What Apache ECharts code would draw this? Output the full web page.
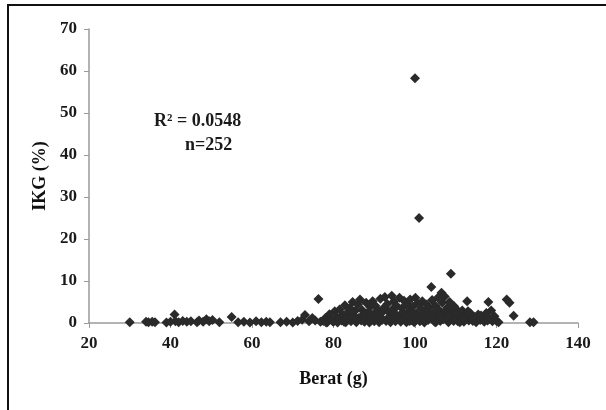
<!DOCTYPE html>
<html>
<head>
<meta charset="utf-8">
<script src="https://cdn.jsdelivr.net/npm/echarts@6/dist/echarts.min.js"></script>
<style>
  html, body { margin: 0; padding: 0; background: #fff; }
  #chart01 { width: 606px; height: 410px; }
</style>
</head>
<body>
<div id="chart01"></div>
<script>
// x axis: Berat (g), y axis: IKG (%)
var xTicks = [20, 40, 60, 80, 100, 120, 140];
var yTicks = [0, 10, 20, 30, 40, 50, 60, 70];

var weight = [
  30, 34, 34.6, 35.5, 36.2, 39, 40, 41, 41.2, 42,
  43, 44, 45, 46.5, 47, 48, 48.8, 49.5, 50.3, 52,
  55, 56.6, 58, 59.5, 61, 62.3, 63.5, 64.4, 67, 68.5,
  70, 71.2, 72.3, 73, 74, 74.8, 75.5, 76.3, 76.8,
  77.5, 78, 78.5, 79, 79.5, 80, 80.3, 80.8, 81, 81.5,
  82, 82.3, 82.8, 83, 83.4, 83.8, 84, 84.3, 84.7, 85,
  85.3, 85.6, 86, 86.2, 86.5, 86.8, 87, 87.3, 87.6, 88,
  88.2, 88.5, 88.8, 89, 89.3, 89.6, 89.9, 90, 90.3, 90.6,
  90.9, 91.2, 91.5, 91.8, 92, 92.3, 92.6, 92.9, 93.2, 93.5,
  93.8, 94, 94.3, 94.5, 94.8, 95, 95.3, 95.6, 95.9, 96.2,
  96.5, 96.8, 97, 97.3, 97.6, 97.9, 98.2, 98.5, 98.8, 99,
  99.2, 99.5, 99.8, 100, 100.1, 100.3, 100.6, 100.9, 101, 101.2,
  101.5, 101.8, 102, 102.3, 102.6, 102.9, 103.2, 103.5, 103.8, 104,
  104.2, 104.5, 104.8, 105, 105.3, 105.6, 105.9, 106.2, 106.5, 106.7,
  107, 107.3, 107.6, 107.9, 108.2, 108.5, 108.8, 109, 109.3, 109.6,
  109.9, 110.2, 110.5, 110.8, 111.2, 111.6, 112, 112.4, 112.8, 113.2,
  113.6, 114, 114.5, 115, 115.5, 116, 116.5, 117, 117.5, 118,
  118.3, 118.7, 119, 119.5, 120, 120.5, 122.5, 123.2, 124.2, 128.2,
  129.1,
  78.2, 79.8, 81.2, 82.6, 84.5, 85.8, 87.8, 89.1, 90.8, 91.9,
  93.3, 94.6, 95.2, 96.4, 97.1, 98.0, 98.6, 99.4, 100.4, 101.6,
  102.5, 103.4, 104.4, 105.1, 105.8, 106.9, 107.5, 108.0, 109.5, 110.0,
  111.0, 111.8, 113.0, 114.2, 116.2, 117.8
];
var ikg = [
  0.2, 0.3, 0.2, 0.3, 0.2, 0.1, 0.3, 2.0, 0.4, 0.2,
  0.5, 0.3, 0.4, 0.2, 0.6, 0.3, 0.9, 0.4, 0.7, 0.2,
  1.4, 0.2, 0.3, 0.1, 0.4, 0.2, 0.3, 0.2, 0.2, 0.3,
  0.1, 0.5, 0.8, 1.9, 0.4, 1.2, 0.6, 5.7, 0.3,
  0.5, 1.2, 0.2, 2.1, 0.8, 0.3, 2.8, 1.5, 0.1, 3.2,
  0.6, 1.9, 4.2, 0.2, 2.5, 1.1, 3.6, 0.4, 5.0, 1.7,
  2.9, 0.2, 4.4, 1.2, 5.6, 0.6, 3.1, 2.0, 0.3, 4.8,
  1.5, 2.6, 0.1, 3.8, 0.9, 5.2, 2.2, 0.4, 4.1, 1.3,
  3.0, 0.2, 5.8, 2.4, 1.0, 3.6, 6.2, 0.5, 4.5, 2.7,
  1.6, 0.2, 6.5, 3.3, 5.1, 0.8, 2.1, 4.0, 1.4, 6.0,
  0.3, 3.5, 2.5, 5.3, 1.1, 0.2, 4.3, 2.8, 5.6, 0.6,
  1.8, 3.9, 0.2, 58.3, 6.0, 2.3, 4.7, 1.2, 25.0, 0.4,
  3.4, 5.2, 1.9, 0.1, 2.9, 4.4, 0.7, 3.7, 1.5, 8.6,
  5.5, 2.4, 0.3, 4.1, 1.0, 6.0, 3.1, 0.5, 7.2, 4.8,
  2.2, 6.3, 1.3, 3.6, 0.2, 5.0, 11.7, 2.7, 0.8, 4.0,
  1.7, 3.2, 0.4, 2.0, 1.1, 3.0, 0.3, 1.6, 5.2, 0.6,
  2.3, 0.9, 1.5, 0.2, 2.0, 0.7, 1.2, 0.3, 2.4, 5.0,
  1.0, 3.0, 0.4, 1.6, 0.5, 0.2, 5.6, 4.8, 1.7, 0.2,
  0.2,
  0.1, 0.4, 0.9, 0.3, 1.4, 0.8, 1.8, 0.5, 2.0, 0.7,
  0.9, 1.2, 0.4, 1.9, 0.9, 1.3, 0.5, 2.5, 0.8, 1.5,
  0.6, 2.0, 1.0, 0.2, 1.8, 0.9, 2.9, 1.6, 0.5, 2.4,
  0.2, 1.3, 2.8, 0.5, 1.8, 0.6
];

var points = weight.map(function (w, i) { return [w, ikg[i]]; });

var serif = '"Liberation Serif", "DejaVu Serif", serif';

var myChart01 = echarts.init(document.getElementById('chart01'));
var option = {
  backgroundColor: '#ffffff',
  animation: false,
  grid: { left: 89, right: 28, top: 29, bottom: 87 },
  xAxis: {
    type: 'value',
    min: xTicks[0],
    max: xTicks[xTicks.length - 1],
    interval: 20,
    name: 'Berat (g)',
    nameLocation: 'middle',
    nameGap: 47,
    nameTextStyle: { fontFamily: serif, fontWeight: 'bold', fontSize: 18, color: '#111' },
    axisLine: { show: true, lineStyle: { color: '#9a9a9a', width: 1.5 } },
    axisTick: { show: true, inside: false, length: 5, lineStyle: { color: '#9a9a9a' } },
    axisLabel: { margin: 12, fontFamily: serif, fontWeight: 'bold', fontSize: 17, color: '#1a1a1a' },
    splitLine: { show: false }
  },
  yAxis: {
    type: 'value',
    min: yTicks[0],
    max: yTicks[yTicks.length - 1],
    interval: 10,
    name: 'IKG (%)',
    nameLocation: 'middle',
    nameGap: 38,
    nameRotate: 90,
    nameTextStyle: { fontFamily: serif, fontWeight: 'bold', fontSize: 18, color: '#111' },
    axisLine: { show: true, lineStyle: { color: '#9a9a9a', width: 1.5 } },
    axisTick: { show: true, inside: false, length: 5, lineStyle: { color: '#9a9a9a' } },
    axisLabel: { margin: 12, fontFamily: serif, fontWeight: 'bold', fontSize: 17, color: '#1a1a1a' },
    splitLine: { show: false }
  },
  graphic: [
    { type: 'line', shape: { x1: 7, y1: 5, x2: 606, y2: 5 }, style: { stroke: '#111', lineWidth: 2 } },
    { type: 'line', shape: { x1: 8, y1: 5, x2: 8, y2: 410 }, style: { stroke: '#111', lineWidth: 2 } },
    {
      type: 'text', left: 154, top: 112,
      style: { text: 'R² = 0.0548', font: 'bold 18px ' + serif, fill: '#1a1a1a' }
    },
    {
      type: 'text', left: 185, top: 136,
      style: { text: 'n=252', font: 'bold 18px ' + serif, fill: '#1a1a1a' }
    }
  ],
  series: [
    {
      name: 'IKG',
      type: 'scatter',
      symbol: 'diamond',
      symbolSize: 10,
      itemStyle: { color: '#2a2a2a', opacity: 1 },
      data: points
    }
  ]
};
myChart01.setOption(option);
</script>
</body>
</html>
